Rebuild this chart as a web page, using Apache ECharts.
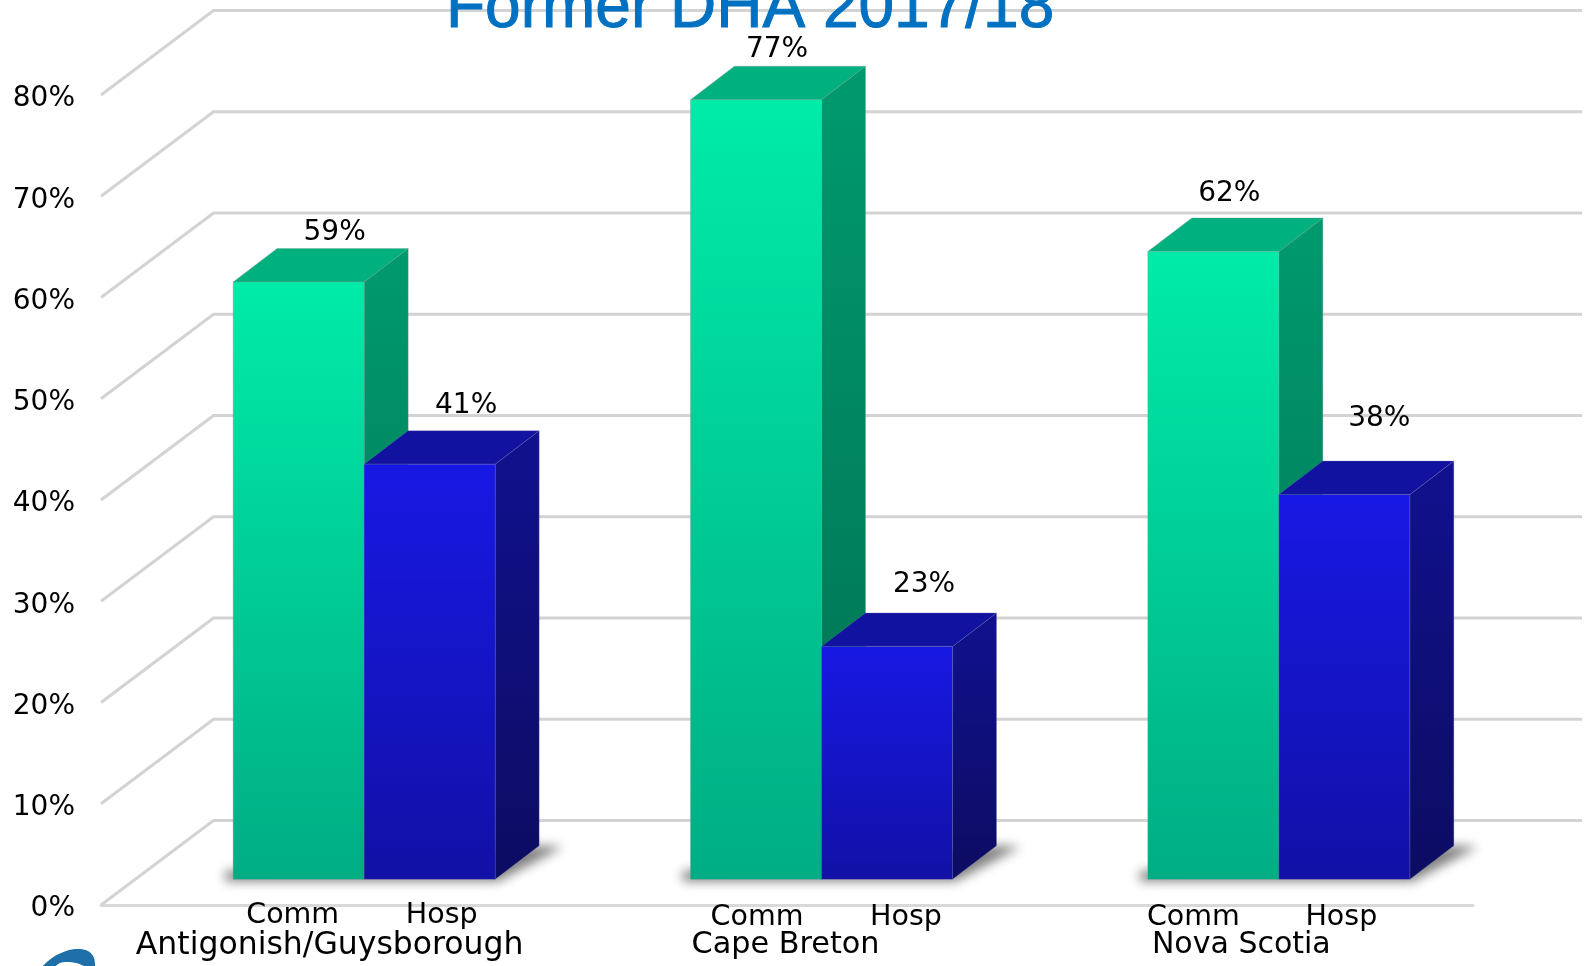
<!DOCTYPE html>
<html>
<head>
<meta charset="utf-8">
<style>html,body{margin:0;padding:0;background:#fff}#c{width:1585px;height:966px}</style>
<script src="https://cdn.jsdelivr.net/npm/echarts@6/dist/echarts.min.js"></script>
</head>
<body>
<div id="c"></div>
<script>
const categories = ['Antigonish/Guysborough', 'Cape Breton', 'Nova Scotia'];
const commValues = [59, 77, 62];
const hospValues = [41, 23, 38];
const subLabels = ['Comm', 'Hosp'];
const yTicks = [0, 10, 20, 30, 40, 50, 60, 70, 80];
const titleText = 'Former DHA 2017/18';

// presentation constants (3-D projection and hand-placed label nudges)
const BAR_W = 131, BAR_DX = 44, BAR_DY = 33.5, FLOOR_DX = 34.5, FLOOR_DY = 25.7;
const WALL_DX = 112.5, WALL_DY = 84.5, WALL_RIGHT = 1582;
const commLabelNudge = [[36, -16], [21, -16], [16, -24]];
const hospLabelNudge = [[36.5, -25], [37, -28], [35, -42.5]];
const FONT = '"DejaVu Sans"';
const OFFSCREEN = 3000;

function barItem(side, colors, nudges) {
  return function (params, api) {
    const cat = api.value(0), val = api.value(1);
    const base = api.coord([cat, 0]), top = api.coord([cat, val]);
    const x0 = base[0] + FLOOR_DX + (side === 0 ? -BAR_W : 0);
    const x1 = x0 + BAR_W;
    const yB = base[1] - FLOOR_DY, yT = top[1] - FLOOR_DY;
    const line = {stroke: colors.edge, lineWidth: 1};
    const grad = (x, y, x2, y2, a, b) => new echarts.graphic.LinearGradient(x, y, x2, y2, [{offset: 0, color: a}, {offset: 1, color: b}]);
    const poly = (points, fill) => ({type: 'polygon', shape: {points}, style: Object.assign({fill}, line)});
    const n = nudges[cat];
    return {
      type: 'group',
      children: [
        poly([[x1, yT], [x1 + BAR_DX, yT - BAR_DY], [x1 + BAR_DX, yB - BAR_DY], [x1, yB]], grad(0, 0, 0, 1, colors.sideTop, colors.sideBottom)),
        poly([[x0, yT], [x0 + BAR_DX, yT - BAR_DY], [x1 + BAR_DX, yT - BAR_DY], [x1, yT]], colors.top),
        poly([[x0, yT], [x1, yT], [x1, yB], [x0, yB]], grad(0, 0, 0, 1, colors.frontTop, colors.frontBottom)),
        {
          type: 'text', z2: 20,
          style: {
            text: val + '%', x: (x0 + x1) / 2 + n[0], y: yT - BAR_DY + n[1],
            align: 'center', verticalAlign: 'middle',
            font: '28px ' + FONT, fill: '#000'
          }
        }
      ]
    };
  };
}

function wallItem(params, api) {
  const p = api.coord([0, api.value(0)]);
  const left = p[0] - api.size([1, 0])[0] / 2;
  return {
    type: 'polyline',
    shape: {points: [[left, p[1]], [left + WALL_DX, p[1] - WALL_DY], [WALL_RIGHT, p[1] - WALL_DY]]},
    style: {stroke: '#d3d3d3', lineWidth: 3, fill: null}
  };
}

function shadowItem(params, api) {
  const base = api.coord([api.value(0), 0]);
  const xL = base[0] + FLOOR_DX - BAR_W, xR = base[0] + FLOOR_DX + BAR_W, yB = base[1] - FLOOR_DY;
  const pts = [[xL - 8, yB - 8], [xR + BAR_DX, yB - BAR_DY], [xR + BAR_DX + 24, yB - BAR_DY + 1], [xR + 3, yB + 2], [xL - 8, yB + 2]];
  return {
    type: 'polygon',
    shape: {points: pts.map(p => [p[0] - OFFSCREEN, p[1]])},
    style: {fill: '#000', shadowBlur: 11, shadowColor: '#808080', shadowOffsetX: OFFSCREEN}
  };
}

function subLabelItem(params, api) {
  const cat = api.value(0);
  const x = api.coord([cat, 0])[0];
  const xs = [[-37, 112], [-30, 119], [-51, 97]][cat];
  const yy = cat === 0 ? 11 : 13;
  return {
    type: 'group',
    children: subLabels.map((t, i) => ({
      type: 'text',
      style: {text: t, x: x + xs[i], y: api.coord([cat, 0])[1] + yy, align: 'center', verticalAlign: 'middle', font: '28.5px ' + FONT, fill: '#000'}
    }))
  };
}

const greens = {frontTop: '#00eca8', frontBottom: '#00ad84', top: '#00b07f', sideTop: '#009a6e', sideBottom: '#006f50', edge: 'rgba(120,150,140,0.35)'};
const blues = {frontTop: '#1818e4', frontBottom: '#1111a6', top: '#1212a0', sideTop: '#11118f', sideBottom: '#0c0c62', edge: 'rgba(110,110,170,0.3)'};

const chart = echarts.init(document.getElementById('c'), null, {renderer: 'canvas'});
chart.setOption({
  animation: false,
  backgroundColor: '#fff',
  title: {
    text: titleText, left: 441, top: -28,
    textStyle: {color: '#0070c0', fontSize: 64, fontWeight: 'normal', fontFamily: '"Liberation Sans"', textBorderColor: '#0070c0', textBorderWidth: 1}
  },
  grid: {left: 101, top: 95, width: 1372, height: 810},
  xAxis: {
    type: 'category', data: categories,
    axisTick: {show: false},
    axisLine: {lineStyle: {color: '#d9d9d9', width: 3}},
    axisLabel: {
      color: '#000', fontSize: 31, fontFamily: FONT, margin: 25, interval: 0,
      formatter: (v, i) => '{c' + i + '|' + v + '}',
      rich: {
        c0: {fontSize: 31.5, fontFamily: FONT},
        c1: {fontSize: 30.3, fontFamily: FONT, padding: [0, 3, 0, 0]},
        c2: {fontSize: 30, fontFamily: FONT, padding: [0, 6, 0, 0]}
      }
    }
  },
  yAxis: {
    type: 'value', min: 0, max: 80, interval: 10,
    axisLine: {show: false}, axisTick: {show: false}, splitLine: {show: false},
    axisLabel: {
      color: '#000', fontSize: 28, fontFamily: FONT, margin: 26,
      formatter: v => '{t|' + v + '%}',
      rich: {t: {fontSize: 28, fontFamily: FONT, padding: [8, 0, 0, 0]}}
    }
  },
  graphic: [{
    type: 'polygon', silent: true,
    shape: {smooth: 0.35, points: [[40, 970], [52, 958], [66, 951], [78, 949], [88, 951], [94, 958], [94, 970], [84, 966], [76, 963], [68, 962], [60, 963], [50, 970]]},
    style: {fill: '#1f6fa8'}
  }],
  series: [
    {type: 'custom', name: 'walls', data: yTicks.map(v => [v]), renderItem: wallItem, encode: {y: 0}, silent: true, z: 1},
    {type: 'custom', name: 'shadow', data: categories.map((c, i) => [i]), renderItem: shadowItem, encode: {x: 0}, silent: true, z: 2},
    {type: 'custom', name: 'Comm', data: commValues.map((v, i) => [i, v]), renderItem: barItem(0, greens, commLabelNudge), encode: {x: 0, y: 1}, z: 3},
    {type: 'custom', name: 'Hosp', data: hospValues.map((v, i) => [i, v]), renderItem: barItem(1, blues, hospLabelNudge), encode: {x: 0, y: 1}, z: 4},
    {type: 'custom', name: 'sub', data: categories.map((c, i) => [i]), renderItem: subLabelItem, encode: {x: 0}, silent: true, z: 5}
  ]
});
</script>
</body>
</html>
